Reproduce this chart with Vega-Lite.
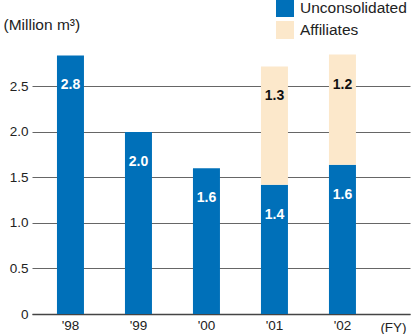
{
  "$schema": "https://vega.github.io/schema/vega-lite/v6.json",
  "width": 378,
  "height": 284,
  "autosize": "none",
  "padding": {"left": 32, "top": 30, "right": 1, "bottom": 20},
  "background": "white",
  "config": {
    "view": {"stroke": null},
    "font": "Liberation Sans",
    "axis": {"labelColor": "#222", "titleColor": "#222"}
  },
  "data": {
    "values": [
      {"year": "'98", "series": "Unconsolidated", "value": 2.84},
      {"year": "'99", "series": "Unconsolidated", "value": 2.0},
      {"year": "'00", "series": "Unconsolidated", "value": 1.6},
      {"year": "'01", "series": "Unconsolidated", "value": 1.42},
      {"year": "'01", "series": "Affiliates", "value": 1.3},
      {"year": "'02", "series": "Unconsolidated", "value": 1.64},
      {"year": "'02", "series": "Affiliates", "value": 1.21}
    ]
  },
  "transform": [
    {
      "stack": "value",
      "groupby": ["year"],
      "sort": [{"field": "series", "order": "descending"}],
      "as": ["v0", "v1"]
    }
  ],
  "encoding": {
    "x": {
      "field": "year",
      "type": "ordinal",
      "sort": ["'98", "'99", "'00", "'01", "'02"],
      "scale": {"paddingInner": 0.603, "paddingOuter": 0.581, "align": 0.316},
      "axis": {
        "labelAngle": 0,
        "labelFontSize": 13.5,
        "labelPadding": 4,
        "ticks": false,
        "domainColor": "#444",
        "domainWidth": 1.5,
        "title": "(FY)",
        "titleFontSize": 13.5,
        "titleFontWeight": "normal",
        "titleX": 361,
        "titleY": 17,
        "titleAlign": "center",
        "titleBaseline": "alphabetic"
      }
    }
  },
  "layer": [
    {
      "mark": {"type": "bar"},
      "encoding": {
        "y": {
          "field": "v0",
          "type": "quantitative",
          "scale": {"domain": [0, 3.12], "nice": false},
          "axis": {
            "values": [0, 0.5, 1, 1.5, 2, 2.5],
            "labelExpr": "datum.value === 0 ? '0' : format(datum.value, '.1f')",
            "labelFontSize": 13.5,
            "labelPadding": 4,
            "domain": false,
            "ticks": false,
            "gridColor": "#666",
            "gridWidth": 1,
            "title": "(Million m³)",
            "titleAngle": 0,
            "titleAlign": "left",
            "titleBaseline": "alphabetic",
            "titleFontSize": 15.5,
            "titleFontWeight": "normal",
            "titleX": -29,
            "titleY": -1
          }
        },
        "y2": {"field": "v1"},
        "color": {
          "field": "series",
          "type": "nominal",
          "scale": {
            "domain": ["Unconsolidated", "Affiliates"],
            "range": ["#0070b9", "#fce8cb"]
          },
          "legend": {
            "orient": "none",
            "legendX": 244,
            "legendY": -31,
            "title": null,
            "symbolType": "square",
            "symbolSize": 324,
            "symbolOpacity": 1,
            "symbolStrokeWidth": 0,
            "labelFontSize": 15.5,
            "labelColor": "#222",
            "labelOffset": 6,
            "rowPadding": 4
          }
        }
      }
    },
    {
      "mark": {
        "type": "text",
        "dy": 30,
        "baseline": "middle",
        "fontWeight": "bold",
        "fontSize": 14
      },
      "encoding": {
        "y": {"field": "v1", "type": "quantitative"},
        "text": {"field": "value", "type": "quantitative", "format": ".1f"},
        "color": {
          "condition": {"test": "datum.series === 'Affiliates'", "value": "#111"},
          "value": "white"
        }
      }
    }
  ]
}
